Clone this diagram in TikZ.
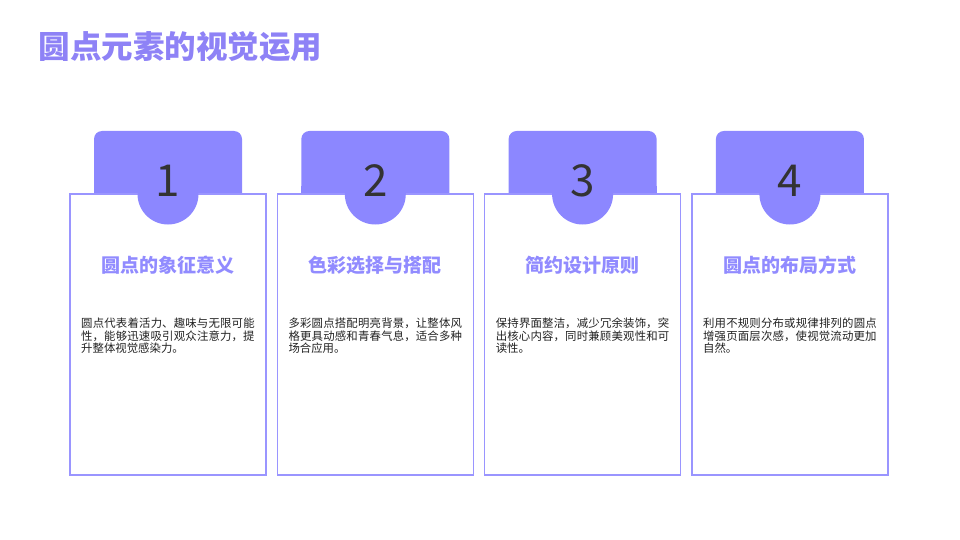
\documentclass[tikz,border=0pt]{standalone}
\usepackage{fontspec}
\setmainfont{Noto Sans CJK SC}
\XeTeXlinebreaklocale "zh"
\XeTeXlinebreakskip=0pt plus 1pt
\usepackage{xcolor}
\usetikzlibrary{positioning}
\definecolor{accent}{HTML}{8C87FF}
\definecolor{edge}{HTML}{9A95FF}
\definecolor{titlec}{HTML}{8E82F6}
\definecolor{headc}{HTML}{918BFF}
\definecolor{numc}{HTML}{333333}
\definecolor{bodyc}{HTML}{222222}
\tikzset{
  card/.style={draw=edge, line width=1.6pt, fill=white},
  tabshape/.style={fill=accent},
  badge/.style={circle, fill=accent, minimum size=61pt, inner sep=0pt},
  num/.style={text=numc, font=\fontsize{44}{44}\selectfont},
  head/.style={text=headc, font=\bfseries\fontsize{19}{19}\selectfont},
  body/.style={text=bodyc, font=\fontsize{11.4}{12.2}\selectfont, text width=178pt,
    align=left, inner sep=0pt, anchor=north west},
  ttl/.style={text=titlec, font=\bfseries\fontsize{31.5}{31.5}\selectfont, anchor=west}
}

\begin{document}
\begin{tikzpicture}[x=1pt, y=-1pt]
  \useasboundingbox (0,0) rectangle (960,540);

  \node[ttl] (title) at (35,47) {圆点元素的视觉运用};

  \foreach \i/\hd/\tx in {%
    1/圆点的象征意义/圆点代表着活力、趣味与无限可能性，能够迅速吸引观众注意力，提升整体视觉感染力。,%
    2/色彩选择与搭配/多彩圆点搭配明亮背景，让整体风格更具动感和青春气息，适合多种场合应用。,%
    3/简约设计原则/保持界面整洁，减少冗余装饰，突出核心内容，同时兼顾美观性和可读性。,%
    4/圆点的布局方式/利用不规则分布或规律排列的圆点增强页面层次感，使视觉流动更加自然。}{
    \pgfmathsetmacro{\cx}{168+(\i-1)*207.3}
    % tab with rounded top
    \fill[tabshape, rounded corners=8pt] (\cx-74,196) -- (\cx-74,131) -- (\cx+74,131) -- (\cx+74,196);
    \fill[tabshape] (\cx-74,186) rectangle (\cx+74,196);
    % card body
    \draw[card] (\cx-98,194) rectangle (\cx+98,475);
    \node[badge] (dot\i) at (\cx,194) {};
    \node[num] (num\i) at (\cx,181) {\i};
    \node[head] (head\i) at (\cx,265) {\hd};
    \node[body] (body\i) at (\cx-87,318) {\tx};
  }
\end{tikzpicture}
\end{document}
